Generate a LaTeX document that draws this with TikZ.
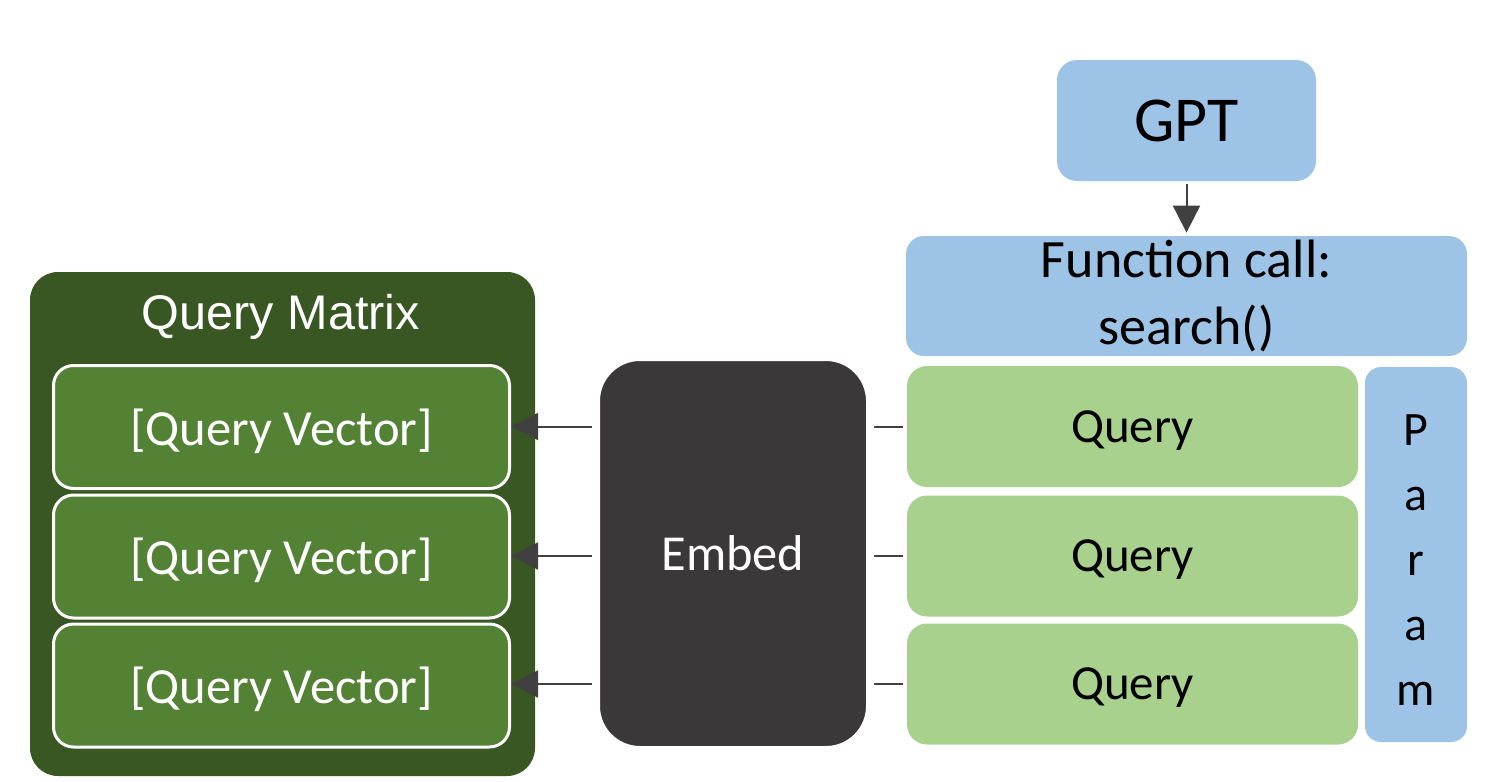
\documentclass[tikz,border=0pt]{standalone}
\usepackage{fontspec}
\setmainfont{Carlito}
\newfontfamily\arialf{Liberation Sans}
\usetikzlibrary{arrows.meta}
\definecolor{lblue}{HTML}{9DC3E6}
\definecolor{lgreen}{HTML}{A9D18E}
\definecolor{dkgreen}{HTML}{385723}
\definecolor{mgreen}{HTML}{548235}
\definecolor{embedgray}{HTML}{3A3838}
\definecolor{arrowgray}{HTML}{404040}
\tikzset{
  bluebox/.style={fill=lblue, text=black, inner sep=0pt},
  querybox/.style={fill=lgreen, text=black, inner sep=0pt, minimum width=225.5pt, minimum height=60.5pt, rounded corners=10pt, text depth=0pt, font=\fontsize{24.5}{29}\selectfont},
  vecbox/.style={fill=mgreen, draw=white, line width=1.5pt, text=white, inner sep=0pt, minimum width=228pt, minimum height=61.5pt, rounded corners=10pt, text depth=0pt, font=\fontsize{25.3}{30}\selectfont},
  conn/.style={draw=arrowgray, line width=1pt, -{Triangle[length=13.5pt,width=13.5pt]}, shorten <=2pt}
}
\begin{document}
\begin{tikzpicture}[x=0.5pt,y=-0.5pt]
\useasboundingbox (0,0) rectangle (1501,782);
% Query matrix
\node[fill=dkgreen, minimum width=252.5pt, minimum height=252pt, rounded corners=14pt, inner sep=0pt] (matrix) at (282.5,524) {};
\node[text=white, font=\arialf\fontsize{24.3}{29}\selectfont, inner sep=0pt] (mtitle) at (281,317) {Query Matrix};
\node[vecbox] (v1) at (281.5,427) {[Query Vector]};
\node[vecbox] (v2) at (281.5,556.5) {[Query Vector]};
\node[vecbox] (v3) at (281.5,685.5) {[Query Vector]};
% right side
\node[bluebox, minimum width=129.5pt, minimum height=60.5pt, rounded corners=10pt, font=\fontsize{32}{38}\selectfont] (gpt) at (1186.5,120.5) {GPT};
\node[bluebox, minimum width=280.5pt, minimum height=60pt, rounded corners=9pt, align=center, font=\fontsize{27}{33.5}\selectfont] (func) at (1186.5,296) {Function call:\\search()};
\node[querybox] (q1) at (1132.5,426.5) {Query};
\node[querybox] (q2) at (1132.5,556) {Query};
\node[querybox] (q3) at (1132.5,684) {Query};
\node[bluebox, minimum width=51pt, minimum height=187.5pt, rounded corners=8pt,
  label={[name=paramtxt, inner sep=0pt, align=center, yshift=-3pt, font=\fontsize{24}{32.5}\selectfont]center:P\\a\\r\\a\\m}] (param) at (1416,554.5) {};
% connectors
\draw[conn, shorten <=1.5pt, shorten >=1.5pt] (gpt.south) -- (func.north);
\draw[conn] (q1.west) -- (q1.west -| v1.east);
\draw[conn] (q2.west) -- (q2.west -| v2.east);
\draw[conn] (q3.west) -- (q3.west -| v3.east);
% embed on top
\node[fill=embedgray, draw=white, line width=4pt, minimum width=137pt, minimum height=196.5pt, rounded corners=22pt, text=white, inner sep=0pt, font=\fontsize{25.2}{30}\selectfont] (embed) at (733,553.5) {Embed};
\end{tikzpicture}
\end{document}
